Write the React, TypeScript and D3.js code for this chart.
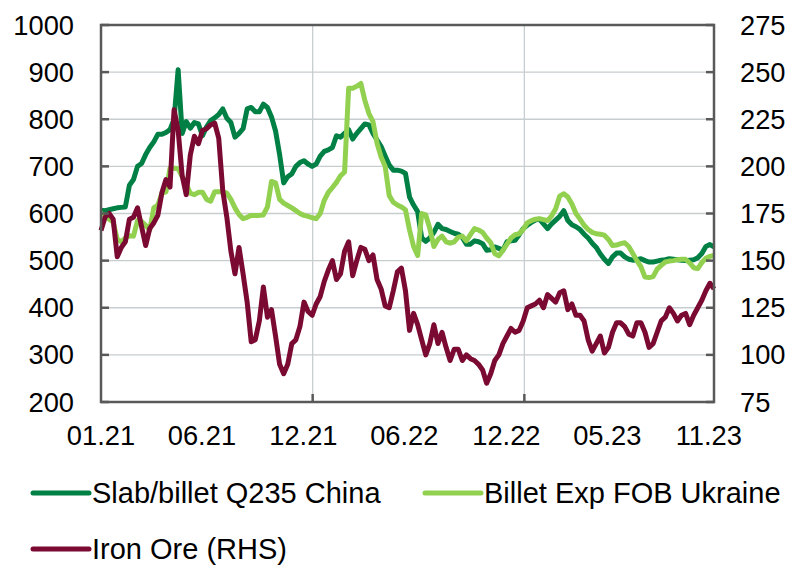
import React from "react";
import * as d3 from "d3";

// ---- Data (weekly observations starting 2021-01-01) ----
const startDate = "2021-01-01";
const slabChina = [
  607, 606, 608, 610, 612, 613, 614, 660, 672, 700, 706, 725, 740, 752, 768, 768, 772, 778, 800, 905,
  770, 795, 781, 793, 790, 765, 784, 797, 803, 810, 822, 802, 793, 762, 770, 780, 822, 825, 816, 816,
  832, 825, 805, 775, 725, 665, 678, 684, 700, 708, 712, 705, 700, 705, 722, 732, 735, 740, 765, 762,
  770, 778, 758, 770, 780, 790, 788, 770, 756, 742, 722, 703, 692, 692, 690, 685, 635, 618, 604, 548,
  541, 548, 560, 577, 568, 566, 562, 558, 556, 549, 535, 535, 542, 540, 536, 522, 523, 529, 526, 522,
  540, 542, 543, 555, 568, 575, 581, 586, 588, 578, 568, 578, 586, 594, 606, 585, 576, 572, 566, 556,
  548, 537, 528, 514, 503, 494, 508, 516, 516, 508, 503, 501, 502, 504, 500, 497, 497, 499, 501, 502,
  504, 503, 502, 501, 500, 501, 502, 506, 515, 530, 534, 529,
];
const billetUkraine = [
  600, 595, 588, 582, 545, 540, 548, 553, 552, 585, 583, 575, 565, 612, 618, 643, 646, 696, 696, 695,
  678, 662, 643, 640, 645, 645, 630, 626, 646, 646, 646, 643, 630, 612, 598, 589, 592, 596, 596, 596,
  597, 614, 668, 665, 630, 622, 617, 612, 606, 600, 596, 594, 591, 589, 600, 628, 645, 655, 666, 680,
  688, 866, 866, 870, 876, 840, 812, 795, 749, 720, 700, 638, 624, 618, 614, 608, 565, 530, 511, 600,
  597, 568, 530, 545, 552, 540, 537, 540, 550, 552, 542, 555, 568, 565, 560, 548, 538, 515, 510, 522,
  535, 548, 555, 557, 566, 580, 585, 588, 589, 587, 585, 595, 610, 637, 642, 635, 620, 600, 588, 575,
  566, 560, 557, 556, 554, 545, 532, 533, 536, 538, 530, 515, 500, 487, 465, 464, 466, 482, 490, 497,
  499, 500, 502, 503, 503, 495, 485, 483, 496, 505, 509, 511,
];
const ironOre = [
  166, 173, 175, 172, 152, 157, 160, 172, 173, 178, 168, 158, 167, 170, 174, 186, 193, 189, 230, 219,
  195, 185, 206, 216, 212, 219, 220, 222, 223, 215, 187, 173, 155, 143, 157, 143, 128, 107, 108, 118,
  136, 120, 124, 110, 95, 90, 95, 106, 108, 115, 128, 123, 121, 127, 131, 139, 145, 150, 140, 143,
  155, 160, 142, 150, 157, 156, 150, 153, 140, 135, 126, 125, 134, 144, 146, 134, 113, 122, 116, 108,
  100, 106, 116, 106, 112, 104, 97, 103, 103, 97, 100, 98, 97, 95, 92, 85, 90, 97, 100, 106,
  110, 114, 112, 113, 118, 125, 126, 127, 129, 125, 132, 130, 128, 133, 134, 124, 127, 121, 121, 118,
  108, 102, 106, 110, 101, 104, 112, 117, 117, 115, 111, 110, 117, 117, 112, 104, 106, 112, 118, 120,
  125, 122, 118, 121, 122, 116, 121, 125, 129, 134, 138, 135,
];

const leftTicks = [200, 300, 400, 500, 600, 700, 800, 900, 1000];
const rightTicks = [75, 100, 125, 150, 175, 200, 225, 250, 275];
const xTickDates = ["2021-01-01", "2021-06-24", "2021-12-16", "2022-06-08", "2022-12-01", "2023-05-24", "2023-11-15"];
const xTickLabels = ["01.21", "06.21", "12.21", "06.22", "12.22", "05.23", "11.23"];
const gridDates = ["2022-01-01", "2023-01-01"];

const seriesNames = ["Slab/billet Q235 China", "Billet Exp FOB Ukraine", "Iron Ore (RHS)"];
const seriesColors = ["#008045", "#92D050", "#7B0A33"];

const W = 788;
const H = 565;
const PL = 101, PR = 714, PT = 25, PB = 402;

const parse = d3.timeParse("%Y-%m-%d");

export default function App() {
  const start = parse(startDate) as Date;
  const dates = slabChina.map((_, i) => d3.timeDay.offset(start, 7 * i));
  const x = d3.scaleTime().domain([dates[0], dates[dates.length - 1]]).range([PL, PR]);
  const yL = d3.scaleLinear().domain([200, 1000]).range([PB, PT]);
  const yR = d3.scaleLinear().domain([75, 275]).range([PB, PT]);

  const lineL = d3.line<number>().x((_, i) => x(dates[i])).y((v) => yL(v));
  const lineR = d3.line<number>().x((_, i) => x(dates[i])).y((v) => yR(v));

  const font = "'Liberation Sans', Arial, sans-serif";
  const axisColor = "#595959";
  const gridColor = "#c8cdd0";

  return (
    <svg width={W} height={H} style={{ position: "absolute", left: 0, top: 0, background: "#fff" }} fontFamily={font}>
      {/* horizontal gridlines */}
      {leftTicks.slice(1, -1).map((t) => (
        <line key={"g" + t} x1={PL} x2={PR} y1={yL(t)} y2={yL(t)} stroke={gridColor} strokeWidth={1.3} />
      ))}
      {/* vertical gridlines */}
      {gridDates.map((d) => (
        <line key={"v" + d} x1={x(parse(d) as Date)} x2={x(parse(d) as Date)} y1={PT} y2={PB} stroke={gridColor} strokeWidth={1.3} />
      ))}
      {/* series */}
      <path d={lineL(slabChina) || ""} fill="none" stroke={seriesColors[0]} strokeWidth={5} strokeLinejoin="round" />
      <path d={lineL(billetUkraine) || ""} fill="none" stroke={seriesColors[1]} strokeWidth={5} strokeLinejoin="round" />
      <path d={lineR(ironOre) || ""} fill="none" stroke={seriesColors[2]} strokeWidth={5} strokeLinejoin="round" />
      {/* frame */}
      <rect x={PL} y={PT} width={PR - PL} height={PB - PT} fill="none" stroke={axisColor} strokeWidth={2.5} />
      {/* left ticks */}
      {leftTicks.map((t) => (
        <g key={"l" + t}>
          <line x1={PL} x2={PL + 8} y1={yL(t)} y2={yL(t)} stroke={axisColor} strokeWidth={2.5} />
          <text x={74} y={yL(t)} dy="0.35em" textAnchor="end" fontSize={27.3} fill="#000">{t}</text>
        </g>
      ))}
      {/* right ticks */}
      {rightTicks.map((t) => (
        <g key={"r" + t}>
          <line x1={PR - 8} x2={PR} y1={yR(t)} y2={yR(t)} stroke={axisColor} strokeWidth={2.5} />
          <text x={740} y={yR(t)} dy="0.35em" textAnchor="start" fontSize={27.3} fill="#000">{t}</text>
        </g>
      ))}
      {/* bottom ticks at year boundaries */}
      {gridDates.map((d) => (
        <line key={"b" + d} x1={x(parse(d) as Date)} x2={x(parse(d) as Date)} y1={PB} y2={PB - 8} stroke={axisColor} strokeWidth={2.5} />
      ))}
      {xTickDates.map((d, i) => (
        <text key={"x" + d} x={x(parse(d) as Date)} y={445} textAnchor="middle" fontSize={27.3} fill="#000">{xTickLabels[i]}</text>
      ))}
      {/* legend */}
      {[
        { lx: 33, ly: 493, tx: 92 },
        { lx: 425, ly: 493, tx: 484 },
        { lx: 33, ly: 549, tx: 92 },
      ].map((p, i) => (
        <g key={"lg" + i}>
          <line x1={p.lx} x2={p.lx + 56} y1={p.ly} y2={p.ly} stroke={seriesColors[i]} strokeWidth={5} strokeLinecap="round" />
          <text x={p.tx} y={p.ly} dy="0.35em" fontSize={29} fill="#000">{seriesNames[i]}</text>
        </g>
      ))}
    </svg>
  );
}
